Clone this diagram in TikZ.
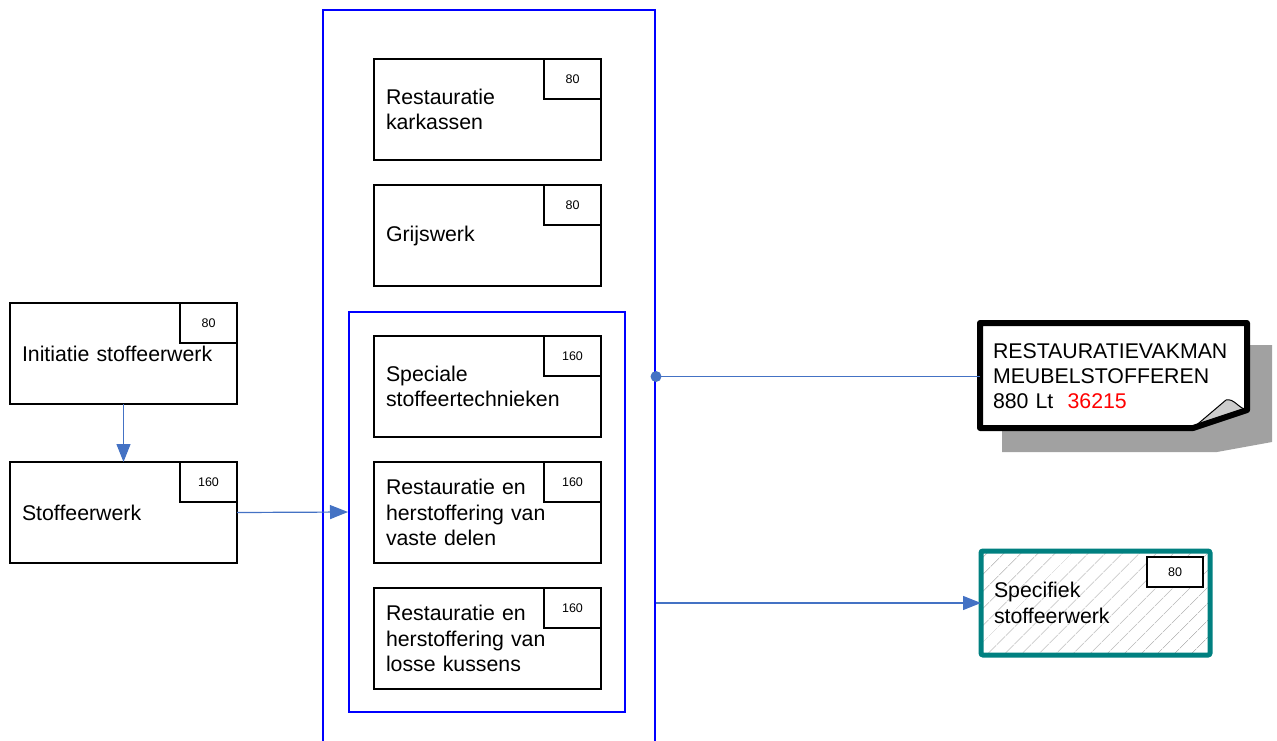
\documentclass[tikz,border=0pt]{standalone}
\usepackage{fontspec}
\setmainfont{Liberation Sans}
\usetikzlibrary{arrows.meta,patterns.meta}
\definecolor{lijn}{RGB}{68,114,196}
\begin{document}
\begin{tikzpicture}[x=1pt,y=-1pt,line width=2pt,
    taak/.style={draw,anchor=north west,outer sep=0pt,minimum width=227pt,minimum height=101pt,
      text width=203pt,inner xsep=12pt,align=left,font=\fontsize{21.3}{25.5}\selectfont},
    uren/.style={draw,line width=2pt,anchor=north east,outer sep=0pt,minimum width=57pt,minimum height=40pt,
      font=\fontsize{12.5}{15}\selectfont},
    kader/.style={draw=blue,anchor=north west,line width=2pt},
    pijl/.style={draw=lijn,line width=1.2pt,-{Triangle[length=18pt,width=14pt]}}]
      \useasboundingbox (0,0) rectangle (1277,740);

      % blauwe kaders
      \node[kader,minimum width=332pt,minimum height=745pt] (B0) at (322,9) {};
      \node[kader,minimum width=276pt,minimum height=400pt] (B1) at (348,311) {};

      \node[taak] (K0) at (374,59) {Restauratie\\karkassen};
      \node[uren] at (K0.north east) {80};
      \node[taak] (G0) at (374,185) {Grijswerk};
      \node[uren] at (G0.north east) {80};
      \node[taak] (T1) at (374,336) {Speciale\\stoffeertechnieken};
      \node[uren] at (T1.north east) {160};
      \node[taak] (T2) at (374,462) {Restauratie en\\herstoffering van\\vaste delen};
      \node[uren] at (T2.north east) {160};
      \node[taak] (T3) at (374,588) {Restauratie en\\herstoffering van\\losse kussens};
      \node[uren] at (T3.north east) {160};

      \node[taak] (I0) at (10,303) {Initiatie stoffeerwerk};
      \node[uren] at (I0.north east) {80};
      \node[taak] (S0) at (10,462) {Stoffeerwerk};
      \node[uren] at (S0.north east) {160};

      % notitie met schaduw
      \fill[black!37] (1002,345) -- (1272,345) -- (1272,442) -- (1217,452) -- (1002,452) -- cycle;
      \fill[white] (980,323) -- (1247,323) -- (1247,410) -- (1193,428) -- (980,428) -- cycle;
      \filldraw[fill=black!20,line width=1pt] (1193,428) -- (1226,400)
        .. controls (1234,398) and (1238,408) .. (1247,410) -- cycle;
      \draw[line width=6pt,line join=round] (980,323) -- (1247,323) -- (1247,410)
        -- (1193,428) -- (980,428) -- cycle;
      \node[anchor=north west,minimum width=267pt,minimum height=105pt,text width=243pt,
        inner xsep=12pt,align=left,font=\fontsize{21.3}{25}\selectfont] (N0) at (980,323)
        {RESTAURATIEVAKMAN\\MEUBELSTOFFEREN\\880 Lt\ \ \textcolor{red}{36215}};

      \node[taak,draw=teal,line width=5pt,rounded corners=2pt,minimum width=229pt,minimum height=104pt,
        pattern={Lines[angle=45,distance=13pt,line width=.8pt]},pattern color=black!30] (P0) at (981,551)
        {Specifiek\\stoffeerwerk};
      \node[uren,fill=white,minimum width=56pt,minimum height=30pt] at ([xshift=-7pt,yshift=-6pt]P0.north east) {80};

      \draw[pijl] (I0) -- (S0);
      \draw[pijl] (S0.east) -- (B1.west);
      \draw[draw=lijn,line width=1.2pt] (B0.east |- N0.west) coordinate (D0) -- (N0.west);
      \fill[lijn] (D0) circle (5.5pt);
      \draw[pijl] (B0.east |- P0.west) -- (P0.west);
    \end{tikzpicture}
\end{document}
